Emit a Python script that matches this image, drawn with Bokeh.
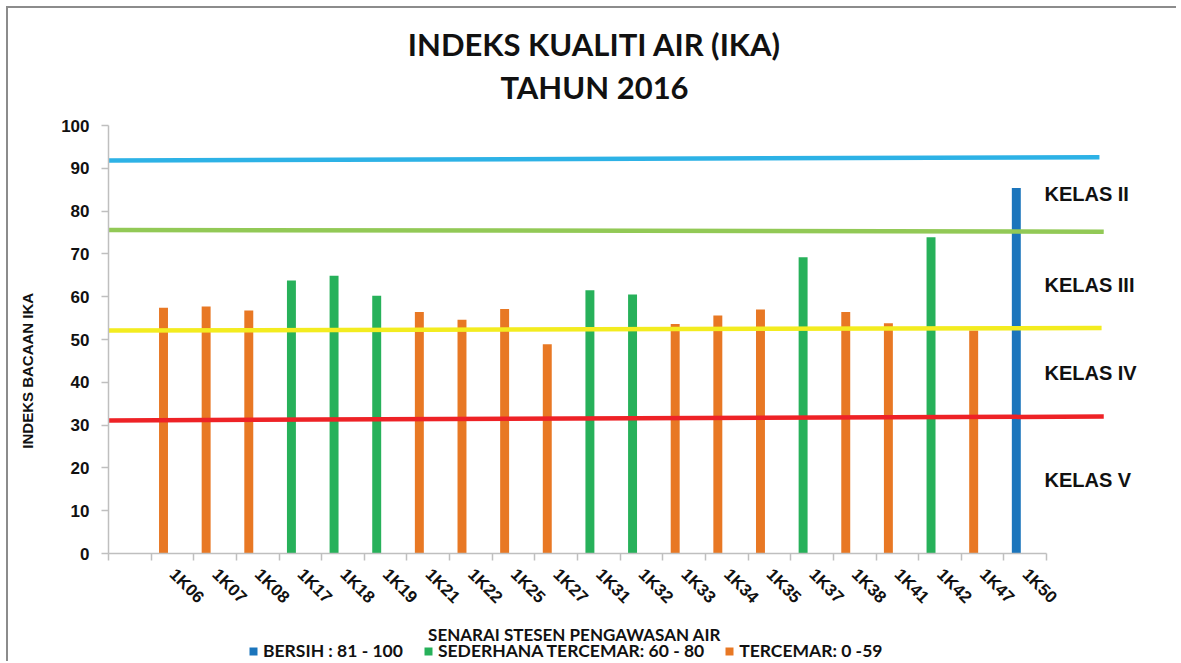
import math
from bokeh.plotting import figure
from bokeh.layouts import column
from bokeh.models import ColumnDataSource, FixedTicker, Legend, LegendItem, Range1d
from bokeh.core.properties import value
from bokeh.embed import file_html
from bokeh.resources import INLINE

try:
    from bokeh.models import GlobalInlineStyleSheet
    page_sheets = [GlobalInlineStyleSheet(css="html, body { overflow: hidden !important; }")]
except Exception:
    page_sheets = []

# ---------------- data ----------------
stations = ["1K06", "1K07", "1K08", "1K17", "1K18", "1K19", "1K21", "1K22", "1K25",
            "1K27", "1K31", "1K32", "1K33", "1K34", "1K35", "1K37", "1K38", "1K41",
            "1K42", "1K47", "1K50"]
ika = [57.4, 57.7, 56.8, 63.8, 64.9, 60.2, 56.4, 54.6, 57.1, 48.9, 61.5, 60.5,
       53.6, 55.6, 57.0, 69.2, 56.4, 53.8, 73.9, 52.1, 85.4]
status = ["T", "T", "T", "S", "S", "S", "T", "T", "T", "T", "S", "S",
          "T", "T", "T", "S", "T", "T", "S", "T", "B"]
legend_keys = ["B", "S", "T"]
legend_labels = {"B": "BERSIH : 81 - 100",
                 "S": "SEDERHANA TERCEMAR: 60 - 80",
                 "T": "TERCEMAR: 0 -59"}
bar_colors = {"B": "#1B75BC", "S": "#27B15A", "T": "#E87824"}

# class boundary lines (drawn slightly sloped in the original)
line_colors = ["#2DB2E6", "#92C956", "#F3EC1F", "#EE2226"]
line_y_start = [91.8, 75.6, 52.1, 31.1]
line_y_end = [92.6, 75.2, 52.7, 32.0]
line_x_end = [22.74, 22.84, 22.79, 22.84]

class_labels = ["KELAS II", "KELAS III", "KELAS IV", "KELAS V"]
class_label_y = [84.0, 62.7, 42.2, 17.1]

y_ticks = list(range(0, 101, 10))

title_lines = ["INDEKS KUALITI AIR (IKA)", "TAHUN 2016"]
x_title = "SENARAI STESEN PENGAWASAN AIR"
y_title = "INDEKS BACAAN IKA"

OFF = 8             # offset of the chart area (border line drawn just outside)
W = 1170
HEADER_H = 115 - OFF
FOOTER_H = 43
FRAME_L, FRAME_R = 108, 1148   # page positions of the plot frame

# ---------------- header (chart title) ----------------
head = figure(width=W, height=HEADER_H, output_backend="svg", toolbar_location=None,
              x_range=Range1d(FRAME_L, FRAME_R), y_range=Range1d(115, OFF),
              x_axis_type=None, y_axis_type=None, min_border=0)
head.outline_line_color = None
head.grid.visible = False
head.text(x=[594, 594], y=[43, 86], text=title_lines,
          text_font=value("Lato"), text_font_style="bold", text_font_size="31px",
          text_color="#111111", text_align="center", text_baseline="middle")

# ---------------- main chart ----------------
n_slots = len(stations) + 1  # first slot is empty
main_h = 663 - 115 - FOOTER_H
p = figure(width=W, height=main_h, output_backend="svg", toolbar_location=None,
           x_range=Range1d(-0.5, 23.89), y_range=Range1d(0, 100),
           min_border_left=FRAME_L - OFF, min_border_right=W + OFF - FRAME_R,
           min_border_top=10, min_border_bottom=main_h - 10 - 428)
p.outline_line_color = None
p.grid.visible = False

# bars
bar_offset = -0.21
for key in legend_keys:
    xs = [i + 1 + bar_offset for i, s in enumerate(status) if s == key]
    tops = [v for v, s in zip(ika, status) if s == key]
    src = ColumnDataSource(dict(x=xs, top=tops))
    p.vbar(x="x", top="top", bottom=0, width=0.21, source=src,
           fill_color=bar_colors[key], line_color=None)

# class lines
p.segment(x0=[-0.5] * len(line_colors), y0=line_y_start, x1=line_x_end, y1=line_y_end,
          line_color=line_colors, line_width=4.5)

# class labels
p.text(x=[21.45] * len(class_labels), y=class_label_y, text=class_labels,
       text_font=value("Liberation Sans"), text_font_style="bold",
       text_font_size="20px", text_color="#111111", text_baseline="middle",
       text_align="left")

# x axis
xa = p.xaxis[0]
xa.ticker = FixedTicker(ticks=list(range(n_slots)),
                        minor_ticks=[i - 0.5 for i in range(n_slots + 1)])
xa.major_label_overrides = {0: ""} | {i + 1: s for i, s in enumerate(stations)}
xa.bounds = (-0.5, n_slots - 0.5)
xa.major_tick_out = 0
xa.major_tick_in = 0
xa.minor_tick_out = 7
xa.minor_tick_in = 0
xa.axis_line_color = "#BFBFBF"
xa.axis_line_width = 1.5
xa.minor_tick_line_color = "#BFBFBF"
xa.minor_tick_line_width = 1.5
xa.major_label_orientation = -math.pi / 4
xa.major_label_standoff = 11
xa.major_label_text_font = "Liberation Sans"
xa.major_label_text_font_style = "bold"
xa.major_label_text_font_size = "17px"
xa.major_label_text_color = "#111111"

# y axis
ya = p.yaxis[0]
ya.ticker = FixedTicker(ticks=y_ticks)
ya.bounds = (0, 100)
ya.minor_tick_out = 0
ya.minor_tick_in = 0
ya.major_tick_out = 7
ya.major_tick_in = 0
ya.axis_line_color = "#BFBFBF"
ya.axis_line_width = 1.5
ya.major_tick_line_color = "#BFBFBF"
ya.major_tick_line_width = 1.5
ya.major_label_standoff = 12
ya.major_label_text_font = "Liberation Sans"
ya.major_label_text_font_style = "bold"
ya.major_label_text_font_size = "17px"
ya.major_label_text_color = "#111111"
# trailing no-break spaces shift the centred label downwards as in the original
ya.axis_label = y_title + "\u00a0" * 15
ya.axis_label_standoff = 22
ya.axis_label_text_font = "Liberation Sans"
ya.axis_label_text_font_style = "bold"
ya.axis_label_text_font_size = "15px"
ya.axis_label_text_color = "#111111"

# ---------------- footer (x title + legend) ----------------
foot = figure(width=W, height=FOOTER_H, output_backend="svg", toolbar_location=None,
              x_range=Range1d(FRAME_L, FRAME_R), y_range=Range1d(FOOTER_H, 0),
              x_axis_type=None, y_axis_type=None, min_border=0)
foot.outline_line_color = None
foot.grid.visible = False
foot.text(x=[574], y=[13.5], text=[x_title],
          text_font=value("Lato"), text_font_style="bold", text_font_size="17px",
          text_color="#111111", text_align="center", text_baseline="middle")
legend_items = []
for key in legend_keys:
    # zero-height proxy bar: only provides the legend swatch
    r = foot.vbar(x=[FRAME_L], top=[0], bottom=0, width=1,
                  fill_color=bar_colors[key], line_color=None)
    legend_items.append(LegendItem(label=legend_labels[key], renderers=[r]))
legend = Legend(items=legend_items, orientation="horizontal", location=(140, 2),
                glyph_width=10, glyph_height=10, label_standoff=5, spacing=20,
                padding=0, margin=0, border_line_color=None,
                background_fill_alpha=0, label_height=18,
                label_text_font="Lato", label_text_font_style="bold",
                label_text_font_size="17.5px", label_text_color="#111111")
foot.add_layout(legend)

# chart-area border on the top and left only, drawn as a shadow so it does not
# change the layout size
layout = column(head, p, foot, spacing=0, stylesheets=page_sheets,
                styles={"margin-left": "8px", "margin-top": "8px",
                        "box-shadow": "-2px -2px 0px 0px #8C8C8C"})
open("out.html", "w").write(file_html(layout, INLINE))
